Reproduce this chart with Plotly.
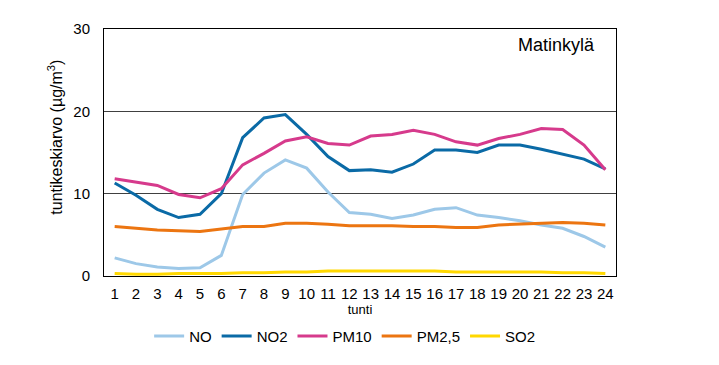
import plotly.graph_objects as go

hours = [str(h) for h in range(1, 25)]
no = [2.2, 1.5, 1.1, 0.9, 1.0, 2.5, 9.9, 12.5, 14.1, 13.1, 10.2, 7.7, 7.5, 7.0, 7.4, 8.1, 8.3, 7.4, 7.1, 6.7, 6.2, 5.8, 4.8, 3.5]
no2 = [11.3, 9.8, 8.1, 7.1, 7.5, 10.0, 16.8, 19.2, 19.6, 17.2, 14.5, 12.8, 12.9, 12.6, 13.6, 15.3, 15.3, 15.0, 15.9, 15.9, 15.4, 14.8, 14.2, 13.0]
pm10 = [11.8, 11.4, 11.0, 9.9, 9.5, 10.6, 13.5, 14.9, 16.4, 16.9, 16.1, 15.9, 17.0, 17.2, 17.7, 17.2, 16.3, 15.9, 16.7, 17.2, 17.9, 17.8, 15.9, 12.9]
pm25 = [6.0, 5.8, 5.6, 5.5, 5.4, 5.7, 6.0, 6.0, 6.4, 6.4, 6.3, 6.1, 6.1, 6.1, 6.0, 6.0, 5.9, 5.9, 6.2, 6.3, 6.4, 6.5, 6.4, 6.2]
so2 = [0.3, 0.2, 0.2, 0.3, 0.3, 0.3, 0.4, 0.4, 0.5, 0.5, 0.6, 0.6, 0.6, 0.6, 0.6, 0.6, 0.5, 0.5, 0.5, 0.5, 0.5, 0.4, 0.4, 0.3]

series = [
    ("NO", no, "#9DC8E8"),
    ("NO2", no2, "#0A6AA6"),
    ("PM10", pm10, "#D63A8C"),
    ("PM2,5", pm25, "#EC7511"),
    ("SO2", so2, "#FFD800"),
]

fig = go.Figure()
for name, vals, color in series:
    fig.add_trace(go.Scatter(x=hours, y=vals, name=name, mode="lines",
                             line=dict(color=color, width=3)))

font = "Liberation Sans, Arial, sans-serif"
fig.update_layout(
    width=711, height=357,
    margin=dict(l=96, r=103, t=19, b=88),
    paper_bgcolor="white", plot_bgcolor="white",
    font=dict(family=font, size=14, color="black"),
    showlegend=True,
    legend=dict(orientation="h", x=0.47, xanchor="center", y=-0.244, yanchor="middle",
                font=dict(size=15), tracegroupgap=0),
    xaxis=dict(type="category", range=[-0.5, 23.5], showline=True, linecolor="black",
               linewidth=1, mirror=True, showgrid=False, ticks="",
               ticklabelstandoff=4,
               title=dict(text="tunti", font=dict(size=13), standoff=0),
               tickfont=dict(size=15)),
    yaxis=dict(range=[0, 30], tickvals=[0, 10, 20, 30], showline=True, linecolor="black",
               linewidth=1, mirror=True, showgrid=True, gridcolor="#404040", gridwidth=1,
               zeroline=False, ticks="", ticklabelstandoff=10, tickfont=dict(size=15)),
    annotations=[
        dict(text="Matinkylä", xref="paper", yref="paper", x=0.963, y=0.936,
             xanchor="right", yanchor="middle", showarrow=False, font=dict(size=18)),
        dict(text="tuntikeskiarvo (µg/m<sup>3</sup>)", xref="paper", yref="paper",
             x=-0.0957, y=0.56, xanchor="center", yanchor="middle", textangle=-90,
             showarrow=False, font=dict(size=16)),
    ],
)

fig.write_html("out.html")
